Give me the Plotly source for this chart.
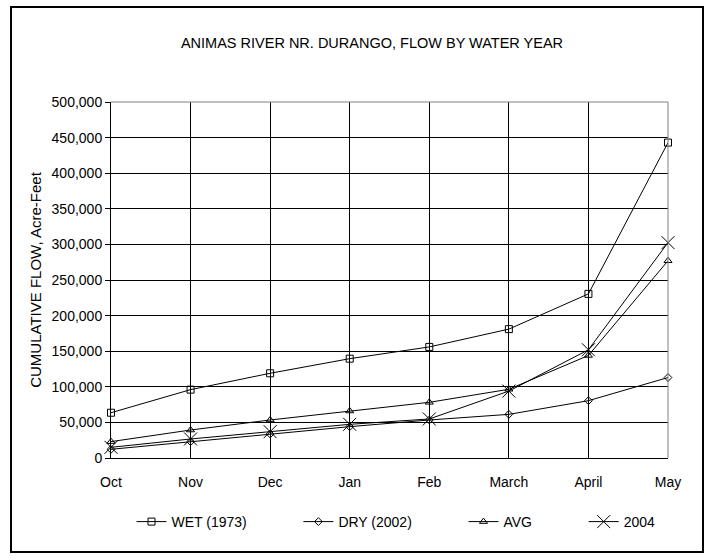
import plotly.graph_objects as go

months = ["Oct", "Nov", "Dec", "Jan", "Feb", "March", "April", "May"]
wet_1973 = [63600, 96000, 119000, 139500, 156000, 181000, 230500, 443000]
dry_2002 = [12200, 22900, 33700, 44000, 53400, 61300, 80500, 113000]
avg_flow = [23000, 39300, 53400, 66000, 78200, 96500, 144000, 277000]
wy_2004 = [15000, 26700, 37000, 47300, 54800, 94000, 152000, 302500]
y_ticks = list(range(0, 500001, 50000))

FONT = "Liberation Sans, Arial, sans-serif"
x_idx = list(range(len(months)))
PAD = "\u00a0" * 12

fig = go.Figure()
series = [
    ("WET (1973)" + PAD, wet_1973, "square-open", 7),
    ("DRY (2002)" + PAD, dry_2002, "diamond-open", 6),
    ("AVG" + PAD, avg_flow, "triangle-up-open", 7),
    ("2004", wy_2004, "x-thin-open", 13),
]
for name, vals, sym, sz in series:
    fig.add_trace(go.Scatter(
        x=x_idx, y=vals, name=name, mode="lines+markers",
        line=dict(color="black", width=1),
        marker=dict(symbol=sym, size=sz, color="black",
                    line=dict(color="black", width=1)),
        cliponaxis=False,
    ))

fig.update_layout(
    width=709, height=560,
    margin=dict(l=111, r=41, t=102, b=102),
    paper_bgcolor="white", plot_bgcolor="white",
    font=dict(family=FONT, size=14, color="black"),
    title=dict(text="ANIMAS RIVER NR. DURANGO, FLOW BY WATER YEAR",
               x=372 / 709, xanchor="center", y=1 - 43 / 560, yanchor="middle",
               font=dict(family=FONT, size=14.5, color="black")),
    showlegend=True,
    legend=dict(orientation="h", x=(396 - 111) / 557, xanchor="center",
                y=(458 - 522) / 356, yanchor="middle",
                font=dict(family=FONT, size=14, color="black"),
                itemwidth=30, tracegroupgap=0),
)

fig.update_xaxes(
    tickmode="array", tickvals=x_idx, ticktext=months,
    range=[0, len(months) - 1],
    showgrid=True, gridcolor="black", gridwidth=1,
    showline=True, linecolor="black", linewidth=1,
    ticks="outside", ticklen=11, tickcolor="rgba(0,0,0,0)",
    zeroline=False,
    tickfont=dict(family=FONT, size=14, color="black"),
)
fig.update_yaxes(
    range=[0, 500000], tickmode="array", tickvals=y_ticks,
    tickformat=",", showgrid=True, gridcolor="black", gridwidth=1,
    showline=True, linecolor="black", linewidth=1,
    ticks="outside", ticklen=5, tickcolor="black",
    zeroline=False,
    tickfont=dict(family=FONT, size=14, color="black"),
    title=dict(text="CUMULATIVE FLOW, Acre-Feet", standoff=6,
               font=dict(family=FONT, size=15, color="black")),
)

# plot-area top/right border (gray) and outer chart border
fig.add_shape(type="line", xref="paper", yref="paper", x0=0, x1=1, y0=1, y1=1,
              line=dict(color="#808080", width=1))
fig.add_shape(type="line", xref="paper", yref="paper", x0=1, x1=1, y0=0, y1=1,
              line=dict(color="#808080", width=1))
fig.add_shape(type="rect", xref="paper", yref="paper",
              x0=(11 - 111) / 557, x1=(703 - 111) / 557,
              y0=(458 - 552) / 356, y1=(458 - 7) / 356,
              line=dict(color="black", width=2), fillcolor="rgba(0,0,0,0)")

fig.write_html("out.html")
